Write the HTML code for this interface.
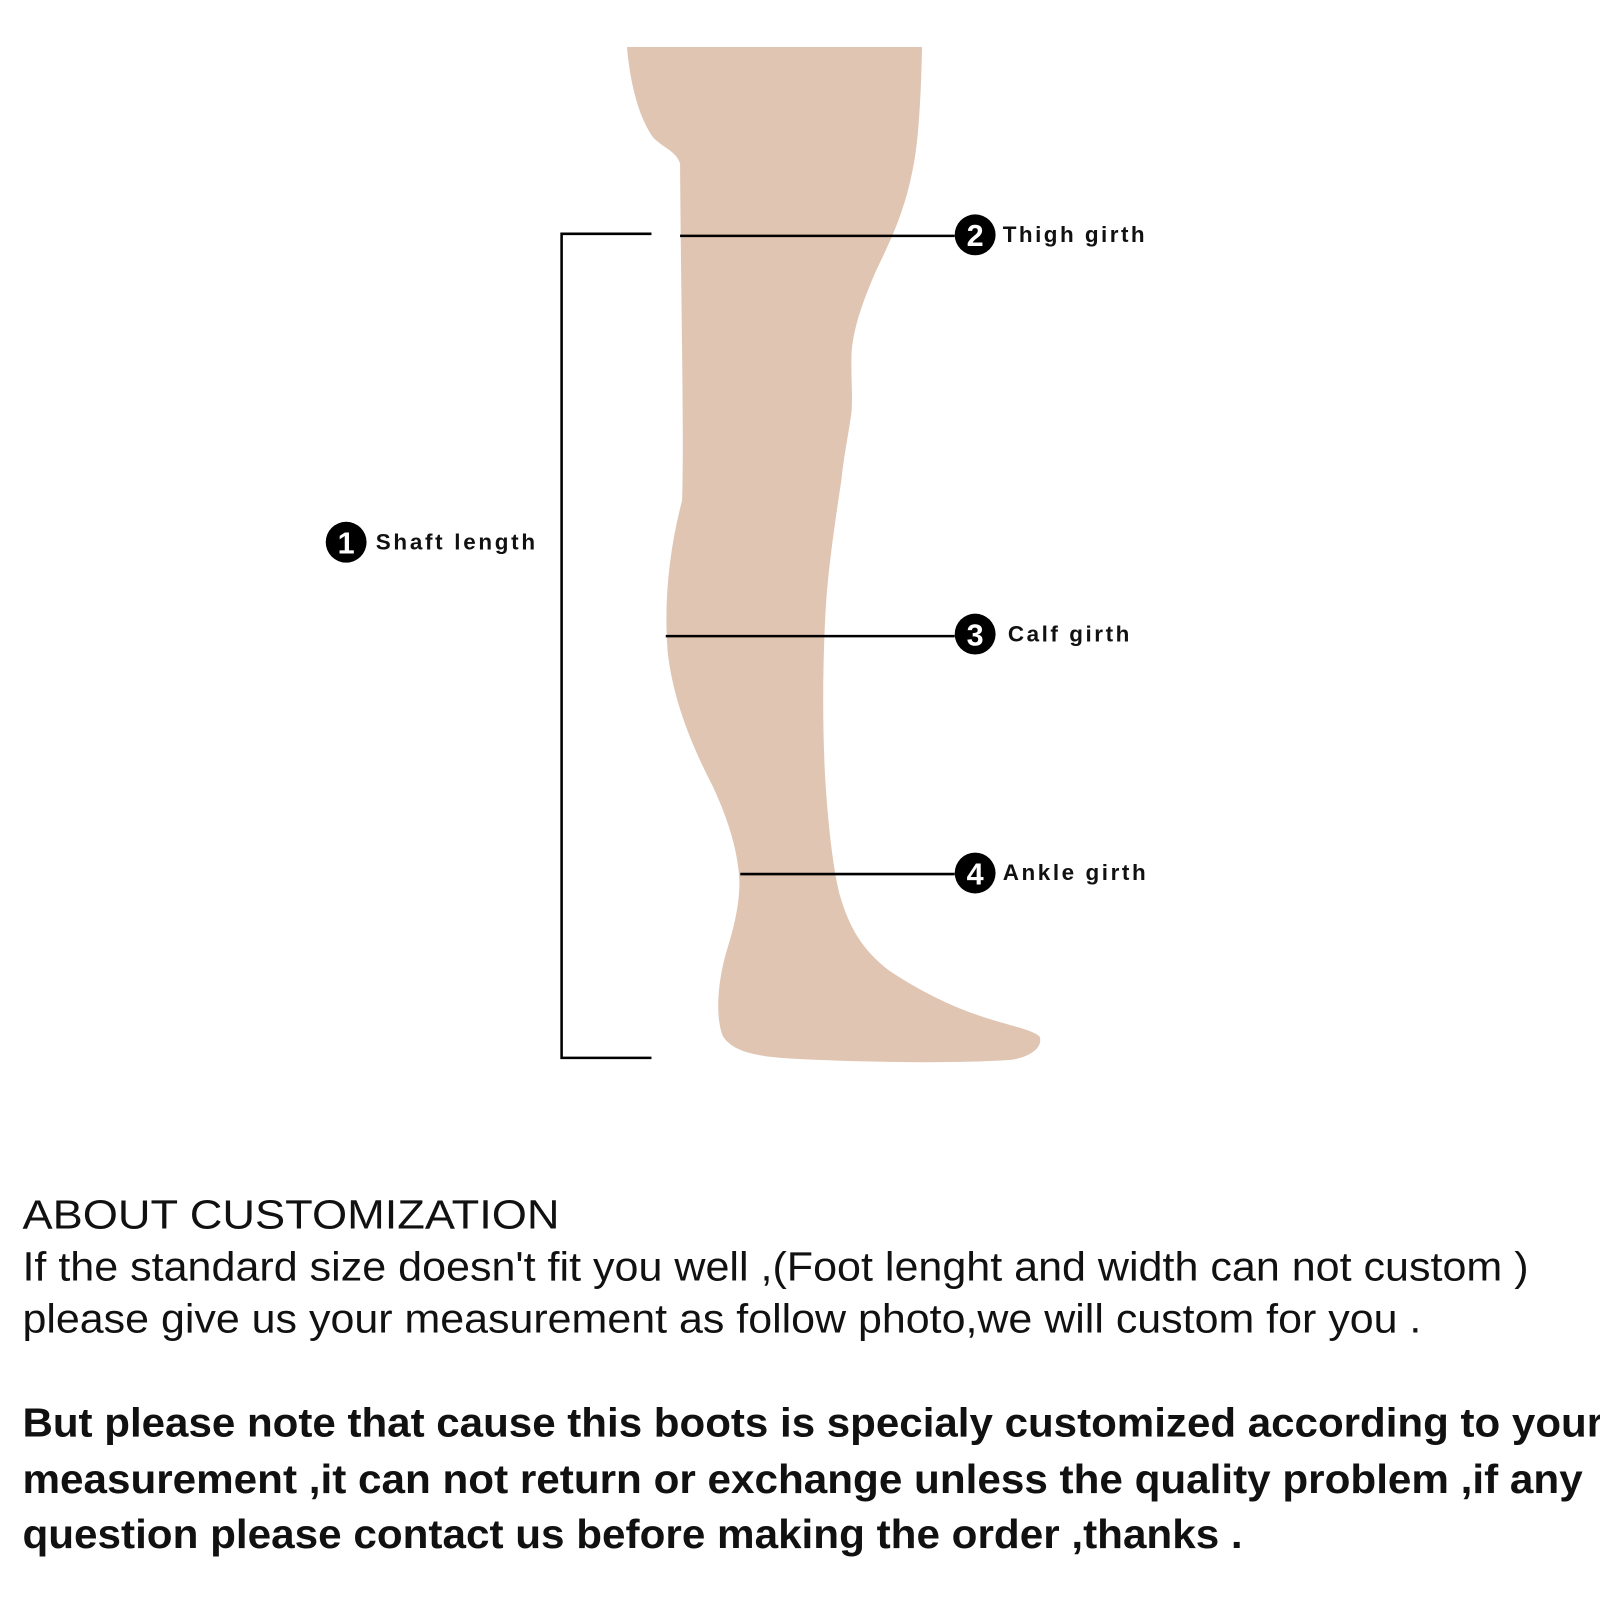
<!DOCTYPE html>
<html><head><meta charset="utf-8"><style>html,body{margin:0;padding:0;background:#fff;}svg{display:block;}</style></head>
<body>
<svg width="1600" height="1600" viewBox="0 0 1600 1600" xmlns="http://www.w3.org/2000/svg">
<rect width="1600" height="1600" fill="#fff"/>
<g transform="scale(1.0211)">
<path d="M614,46 L903,46 C902,90 900,140 893,170 C885,210 870,240 858,265 C845,295 836,320 834,345 C833,370 836,395 833,410 C830,430 826,450 824,470 C818,510 812,550 809,590 C806,640 805,700 808,760 C811,810 816,850 822,875 C832,910 845,930 870,950 C900,970 930,985 960,995 C990,1005 1010,1008 1018,1015 C1022,1025 1010,1035 990,1038 C930,1042 840,1040 780,1037 C740,1035 718,1030 708,1015 C700,995 703,960 712,930 C720,905 725,880 724,860 C722,830 712,800 698,770 C680,735 660,690 654,640 C650,590 655,540 668,490 C670,430 667,300 666,160 C662,148 650,145 640,135 C625,115 617,80 614,46 Z" fill="#e0c5b3"/>
<g stroke="#000" stroke-width="2.5" fill="none">
<path d="M638,229 L550,229 L550,1036 L638,1036"/>
<line x1="666" y1="231" x2="935" y2="231"/>
<line x1="652" y1="623" x2="935" y2="623"/>
<line x1="725" y1="856" x2="935" y2="856"/>
</g>
<g font-family="Liberation Sans, sans-serif" font-weight="bold">
<circle cx="955" cy="230" r="20" fill="#000"/><text x="955" y="241" font-size="30" fill="#fff" text-anchor="middle">2</text>
<circle cx="955" cy="621" r="20" fill="#000"/><text x="955" y="632" font-size="30" fill="#fff" text-anchor="middle">3</text>
<circle cx="955" cy="855" r="20" fill="#000"/><text x="955" y="866" font-size="30" fill="#fff" text-anchor="middle">4</text>
<circle cx="339" cy="531" r="20" fill="#000"/><text x="339" y="542" font-size="30" fill="#fff" text-anchor="middle">1</text>
<text x="982" y="237" font-size="22" textLength="139" lengthAdjust="spacing" fill="#111">Thigh girth</text>
<text x="987" y="628" font-size="22" textLength="119" lengthAdjust="spacing" fill="#111">Calf girth</text>
<text x="982" y="862" font-size="22" textLength="140" lengthAdjust="spacing" fill="#111">Ankle girth</text>
<text x="368" y="538" font-size="22" textLength="156" lengthAdjust="spacing" fill="#111">Shaft length</text>
</g>
<g font-family="Liberation Sans, sans-serif" font-size="40" fill="#111">
<text x="22" y="1203" textLength="526" lengthAdjust="spacingAndGlyphs">ABOUT CUSTOMIZATION</text>
<text x="22" y="1254" textLength="1475" lengthAdjust="spacingAndGlyphs">If the standard size doesn't fit you well ,(Foot lenght and width can not custom )</text>
<text x="22" y="1305" textLength="1370" lengthAdjust="spacingAndGlyphs">please give us your measurement as follow photo,we will custom for you .</text>
<g font-weight="bold">
<text x="22" y="1407" textLength="1548" lengthAdjust="spacingAndGlyphs">But please note that cause this boots is specialy customized according to your</text>
<text x="22" y="1462" textLength="1528" lengthAdjust="spacingAndGlyphs">measurement ,it can not return or exchange unless the quality problem ,if any</text>
<text x="22" y="1516" textLength="1195" lengthAdjust="spacingAndGlyphs">question please contact us before making the order ,thanks .</text>
</g>
</g>
</g>
</svg>
</body></html>
